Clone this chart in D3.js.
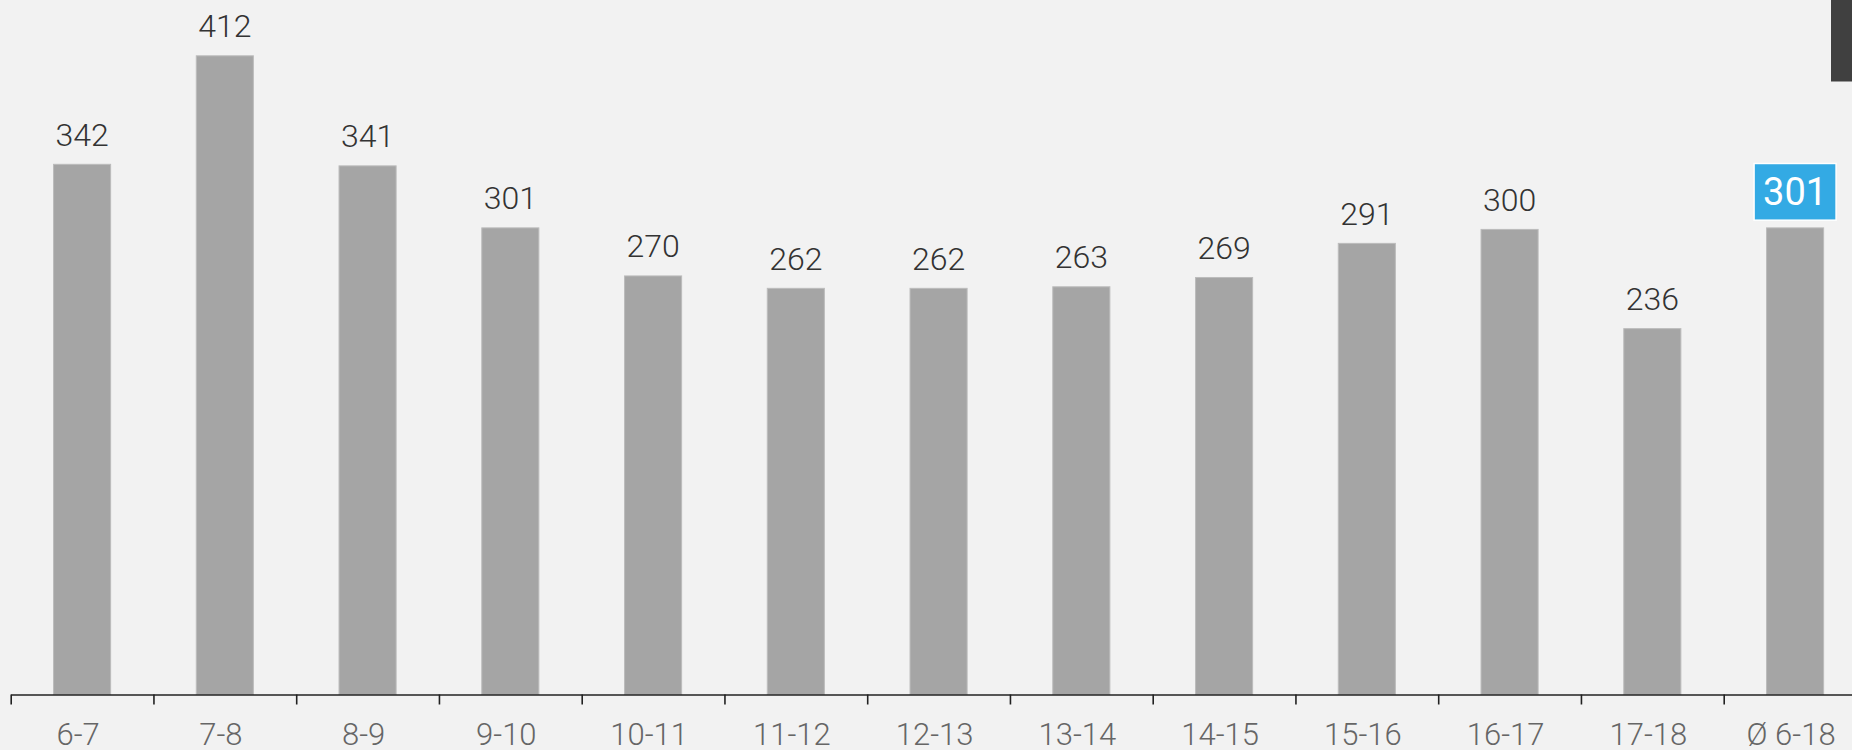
<!DOCTYPE html>
<html>
<head>
<meta charset="utf-8">
<script src="https://cdn.jsdelivr.net/npm/d3@7"></script>
<style>
  body { margin: 0; background: #f2f2f2; overflow: hidden; }
  svg { display: block; }
</style>
</head>
<body>
<div id="chart"></div>
<script>
const categories = ['6-7', '7-8', '8-9', '9-10', '10-11', '11-12', '12-13', '13-14', '14-15', '15-16', '16-17', '17-18', 'Ø 6-18'];
const values = [342, 412, 341, 301, 270, 262, 262, 263, 269, 291, 300, 236, 301];
const highlight = 'Ø 6-18'; // average bar gets the blue label

const width = 1852, height = 750;
const baseY = 694.5;

const svg = d3.select('#chart').append('svg')
  .attr('width', width)
  .attr('height', height);

svg.append('rect')
  .attr('width', width)
  .attr('height', height)
  .attr('fill', '#f2f2f2');

// chart runs past the right edge, like in the original
const x = d3.scaleBand()
  .domain(categories)
  .range([10.7, 10.7 + 13 * 142.75])
  .paddingInner(0.6)
  .paddingOuter(0.3);

const y = d3.scaleLinear()
  .domain([0, 448])
  .range([baseY, 0]);

const data = categories.map((c, i) => ({ cat: c, value: values[i] }));

svg.selectAll('.bar')
  .data(data)
  .enter().append('rect')
  .attr('class', 'bar')
  .attr('x', d => x(d.cat))
  .attr('y', d => y(d.value))
  .attr('width', x.bandwidth())
  .attr('height', d => baseY - y(d.value))
  .attr('fill', '#a5a5a5')
  .attr('stroke', '#bcbcbc')
  .attr('stroke-width', 1);

// value labels
svg.selectAll('.val')
  .data(data.filter(d => d.cat !== highlight))
  .enter().append('text')
  .attr('class', 'val')
  .attr('x', d => x(d.cat) + x.bandwidth() / 2)
  .attr('y', d => y(d.value) - 18.5)
  .attr('text-anchor', 'middle')
  .attr('font-family', 'Roboto')
  .attr('font-weight', 300)
  .attr('font-size', 32)
  .attr('fill', '#333')
  .text(d => d.value);

// highlighted label in a blue box
const hl = data.find(d => d.cat === highlight);
const hx = x(hl.cat) + x.bandwidth() / 2;
const hy = y(hl.value);
svg.append('rect')
  .attr('x', hx - 41)
  .attr('y', hy - 64.4)
  .attr('width', 82)
  .attr('height', 56.7)
  .attr('fill', '#33aae4')
  .attr('stroke', '#fff')
  .attr('stroke-width', 1.5);
svg.append('text')
  .attr('x', hx)
  .attr('y', hy - 22.5)
  .attr('text-anchor', 'middle')
  .attr('font-family', 'Roboto')
  .attr('font-size', 38)
  .attr('fill', '#fff')
  .text(hl.value);

// axis: ticks sit on the band boundaries
const xEdge = d3.scaleLinear()
  .domain([0, categories.length])
  .range(x.range());

svg.append('g')
  .attr('transform', `translate(0,${baseY})`)
  .call(d3.axisBottom(xEdge)
    .tickValues(d3.range(categories.length + 1))
    .tickSize(10)
    .tickSizeOuter(0)
    .tickFormat(''))
  .call(g => g.selectAll('path, line').attr('stroke', '#222').attr('stroke-width', 1.6));

const labels = svg.append('g')
  .attr('transform', `translate(-4,${baseY})`)
  .call(d3.axisBottom(x).tickSize(0).tickPadding(0));
labels.select('.domain').remove();
labels.selectAll('text')
  .attr('y', 745 - baseY)
  .attr('dy', 0)
  .attr('font-family', 'Roboto')
  .attr('font-weight', 300)
  .attr('font-size', 31)
  .attr('fill', '#666');

// dark tab in the top right corner
svg.append('rect')
  .attr('x', 1831)
  .attr('y', 0)
  .attr('width', width - 1831)
  .attr('height', 81.5)
  .attr('fill', '#404040');
</script>
</body>
</html>
